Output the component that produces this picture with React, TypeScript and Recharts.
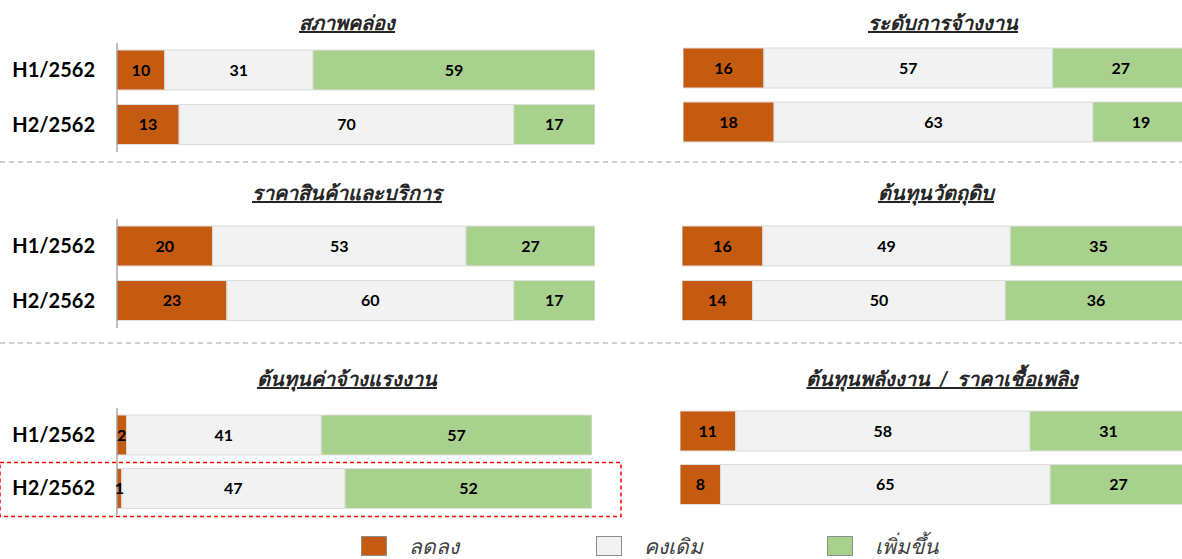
import React from "react";
import { BarChart, Bar, XAxis, YAxis, LabelList } from "recharts";

const periods = ["H1/2562", "H2/2562"];
const seriesNames = ["ลดลง", "คงเดิม", "เพิ่มขึ้น"];
const panelTitles = [
  "สภาพคล่อง",
  "ระดับการจ้างงาน",
  "ราคาสินค้าและบริการ",
  "ต้นทุนวัตถุดิบ",
  "ต้นทุนค่าจ้างแรงงาน",
  "ต้นทุนพลังงาน  /  ราคาเชื้อเพลิง",
];
const decreaseValues = [[10, 13], [16, 18], [20, 23], [16, 14], [2, 1], [11, 8]];
const unchangedValues = [[31, 70], [57, 63], [53, 60], [49, 50], [41, 47], [58, 65]];
const increaseValues = [[59, 17], [27, 19], [27, 17], [35, 36], [57, 52], [31, 27]];

const COLORS = ["#C55A11", "#F2F2F2", "#A9D18E"];
const FONT = "Lato, 'Noto Sans', 'DejaVu Sans', sans-serif";

// layout: left of plot, top of plot, plot width, plot height, showAxis, title centre x, title y
const panelLayout = [
  { x: 117, y: 43, w: 478, h: 109, axis: true, tx: 347, ty: 10 },
  { x: 683, y: 41, w: 506, h: 108, axis: false, tx: 943, ty: 10 },
  { x: 117, y: 219, w: 478, h: 109, axis: true, tx: 347, ty: 180 },
  { x: 682, y: 219, w: 505, h: 109, axis: false, tx: 936, ty: 180 },
  { x: 117, y: 408, w: 475, h: 107, axis: true, tx: 347, ty: 366 },
  { x: 680, y: 404, w: 507, h: 107, axis: false, tx: 942, ty: 366 },
];

function Panel({ idx }: { idx: number }) {
  const L = panelLayout[idx];
  const data = periods.map((p, i) => ({
    period: p,
    dec: decreaseValues[idx][i],
    same: unchangedValues[idx][i],
    inc: increaseValues[idx][i],
  }));
  const yw = L.axis ? 117 : 0;
  const labelStyle = { fill: "#000", fontWeight: 700, fontSize: 16, fontFamily: FONT } as any;
  return (
    <>
      <div
        style={{
          position: "absolute",
          left: L.tx,
          top: L.ty,
          transform: "translateX(-50%)",
          whiteSpace: "pre",
          fontFamily: FONT,
          fontWeight: 700,
          fontStyle: "italic",
          textDecoration: "underline",
          fontSize: 20,
          color: "#262626",
          lineHeight: "24px",
        }}
      >
        {panelTitles[idx]}
      </div>
      <div style={{ position: "absolute", left: L.x - yw, top: L.y }}>
        <BarChart
          width={L.w + yw}
          height={L.h}
          data={data}
          layout="vertical"
          margin={{ top: 0, right: 0, bottom: 0, left: 0 }}
        >
          <XAxis type="number" domain={[0, 100]} hide />
          <YAxis
            type="category"
            dataKey="period"
            width={yw}
            hide={!L.axis}
            axisLine={{ stroke: "#808080" }}
            tickLine={false}
            tickSize={0}
            tickMargin={22}
            tick={{ fill: "#000", fontWeight: 700, fontSize: 20, fontFamily: FONT }}
          />
          <Bar dataKey="dec" stackId="a" fill={COLORS[0]} stroke="#E0E0E0" barSize={40} isAnimationActive={false}>
            <LabelList dataKey="dec" position="center" style={labelStyle} />
          </Bar>
          <Bar dataKey="same" stackId="a" fill={COLORS[1]} stroke="#DADADA" barSize={40} isAnimationActive={false}>
            <LabelList dataKey="same" position="center" style={labelStyle} />
          </Bar>
          <Bar dataKey="inc" stackId="a" fill={COLORS[2]} stroke="#E0E0E0" barSize={40} isAnimationActive={false}>
            <LabelList dataKey="inc" position="center" style={labelStyle} />
          </Bar>
        </BarChart>
      </div>
    </>
  );
}

const legendX = [361, 596, 827];

export default function App() {
  return (
    <div
      style={{
        position: "absolute",
        left: 0,
        top: 0,
        width: 1182,
        height: 559,
        overflow: "hidden",
        background: "#fff",
      }}
    >
      {[0, 1, 2, 3, 4, 5].map((i) => (
        <Panel key={i} idx={i} />
      ))}
      <svg style={{ position: "absolute", left: 0, top: 0 }} width={1182} height={559}>
        <line x1={0} y1={162} x2={1182} y2={162} stroke="#CFCFCF" strokeWidth={2} strokeDasharray="5 4" />
        <line x1={0} y1={343} x2={1182} y2={343} stroke="#CFCFCF" strokeWidth={2} strokeDasharray="5 4" />
        <rect x={0} y={462.5} width={621} height={54} fill="none" stroke="#FF0000" strokeWidth={1.5} strokeDasharray="4 3" />
      </svg>
      {seriesNames.map((n, i) => (
        <React.Fragment key={n}>
          <div
            style={{
              position: "absolute",
              left: legendX[i],
              top: 536,
              width: 26,
              height: 20,
              background: COLORS[i],
              border: "1px solid #8C8C8C",
              boxSizing: "border-box",
            }}
          />
          <div
            style={{
              position: "absolute",
              left: legendX[i] + 48,
              top: 532,
              fontFamily: FONT,
              fontStyle: "italic",
              fontSize: 21,
              color: "#404040",
              lineHeight: "28px",
              whiteSpace: "nowrap",
            }}
          >
            {n}
          </div>
        </React.Fragment>
      ))}
    </div>
  );
}
